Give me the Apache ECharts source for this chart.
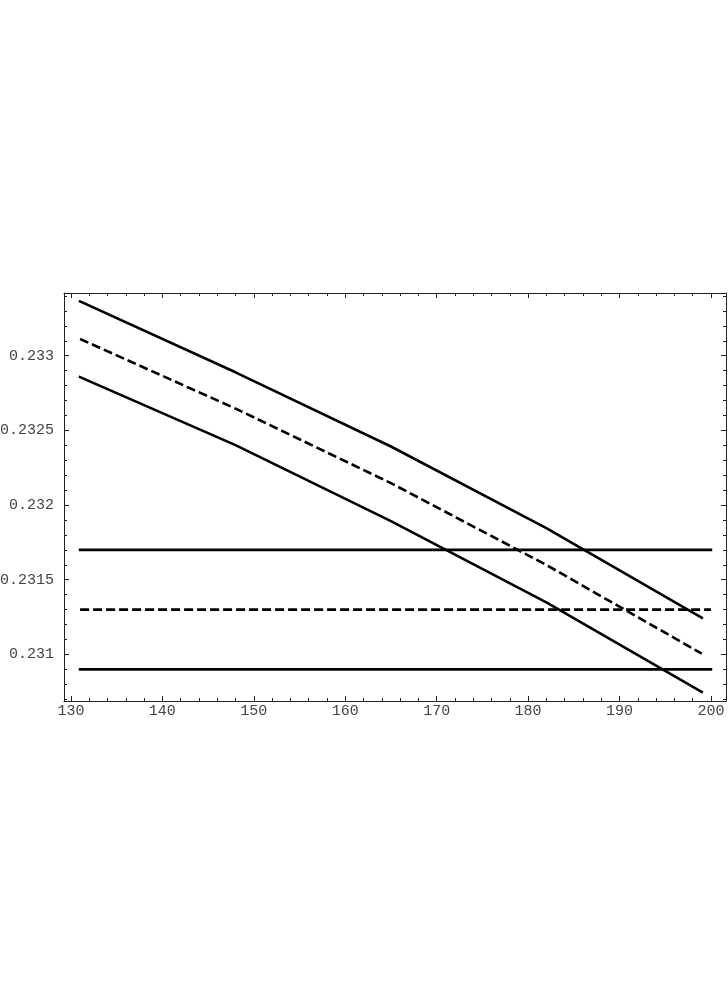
<!DOCTYPE html>
<html>
<head>
<meta charset="utf-8">
<script src="https://cdn.jsdelivr.net/npm/echarts@6/dist/echarts.min.js"></script>
<style>
  html, body { margin: 0; padding: 0; background: #fff; }
  #chart { width: 728px; height: 1008px; }
</style>
</head>
<body>
<div id="chart"></div>
<script>
// curve x positions and values
const xCurve = [131, 148, 165, 182, 199];
const upperCurve = [0.233364, 0.232889, 0.232392, 0.231846, 0.231246];
const centralCurve = [0.233112, 0.232646, 0.232147, 0.231599, 0.231005];
const lowerCurve = [0.232857, 0.232401, 0.231893, 0.231349, 0.230748];

// flat bands
const xFlat = [131, 200];
const flatUpper = 0.2317;
const flatCentral = 0.2313;
const flatLower = 0.2309;

// ticks
const xTicks = [130, 140, 150, 160, 170, 180, 190, 200];
const xMinorTicks = [130, 132, 134, 136, 138, 140, 142, 144, 146, 148, 150, 152, 154, 156, 158, 160, 162, 164, 166, 168, 170, 172, 174, 176, 178, 180, 182, 184, 186, 188, 190, 192, 194, 196, 198, 200];
const yTicks = [0.231, 0.2315, 0.232, 0.2325, 0.233];
const yMinorTicks = [0.2307, 0.2308, 0.2309, 0.231, 0.2311, 0.2312, 0.2313, 0.2314, 0.2315, 0.2316, 0.2317, 0.2318, 0.2319, 0.232, 0.2321, 0.2322, 0.2323, 0.2324, 0.2325, 0.2326, 0.2327, 0.2328, 0.2329, 0.233, 0.2331, 0.2332, 0.2333, 0.2334];

const X_MIN = 129.24, X_MAX = 201.65;
const Y_MIN = 0.230688, Y_MAX = 0.23342;

const chart = echarts.init(document.getElementById("chart"));

const labelFont = {
  fontFamily: "Liberation Mono",
  fontSize: 15,
  color: "#444",
};

function xAxisDef(position, ticks, len, withLabels, withLine) {
  return {
    type: "value",
    position: position,
    min: X_MIN,
    max: X_MAX,
    splitLine: { show: false },
    axisLine: { show: withLine, lineStyle: { color: "#222", width: 1 } },
    axisTick: { show: true, inside: true, length: len, customValues: ticks, lineStyle: { color: "#222", width: 1 } },
    axisLabel: withLabels
      ? Object.assign({ show: true, customValues: ticks, margin: 3, formatter: (v) => String(v) }, labelFont)
      : { show: false },
  };
}

function yAxisDef(position, ticks, len, withLabels, withLine) {
  return {
    type: "value",
    position: position,
    min: Y_MIN,
    max: Y_MAX,
    splitLine: { show: false },
    axisLine: { show: withLine, lineStyle: { color: "#222", width: 1 } },
    axisTick: { show: true, inside: true, length: len, customValues: ticks, lineStyle: { color: "#222", width: 1 } },
    axisLabel: withLabels
      ? Object.assign({ show: true, customValues: ticks, margin: 10, formatter: (v) => String(v) }, labelFont)
      : { show: false },
  };
}

function flatLine(value) {
  return xFlat.map((x) => [x, value]);
}

function curveLine(values) {
  return xCurve.map((x, i) => [x, values[i]]);
}

const solid = { color: "#000", width: 2.6, type: "solid", cap: "square" };
const dashed = { color: "#000", width: 2.6, type: [9, 4], cap: "butt" };

function lineSeries(data, style) {
  return {
    type: "line",
    xAxisIndex: 0,
    yAxisIndex: 0,
    data: data,
    showSymbol: false,
    symbol: "none",
    lineStyle: style,
    silent: true,
  };
}

const option = {
  animation: false,
  backgroundColor: "#fff",
  grid: { left: 64, top: 293, width: 662, height: 408, containLabel: false, outerBoundsMode: "none" },
  xAxis: [
    xAxisDef("bottom", xTicks, 5, true, true),
    xAxisDef("bottom", xMinorTicks, 3, false, false),
    xAxisDef("top", xTicks, 5, false, true),
    xAxisDef("top", xMinorTicks, 3, false, false),
  ],
  yAxis: [
    yAxisDef("left", yTicks, 5, true, true),
    yAxisDef("left", yMinorTicks, 3, false, false),
    yAxisDef("right", yTicks, 5, false, true),
    yAxisDef("right", yMinorTicks, 3, false, false),
  ],
  series: [
    lineSeries(curveLine(upperCurve), solid),
    lineSeries(curveLine(centralCurve), dashed),
    lineSeries(curveLine(lowerCurve), solid),
    lineSeries(flatLine(flatUpper), solid),
    lineSeries(flatLine(flatCentral), dashed),
    lineSeries(flatLine(flatLower), solid),
  ],
};

chart.setOption(option);
</script>
</body>
</html>
